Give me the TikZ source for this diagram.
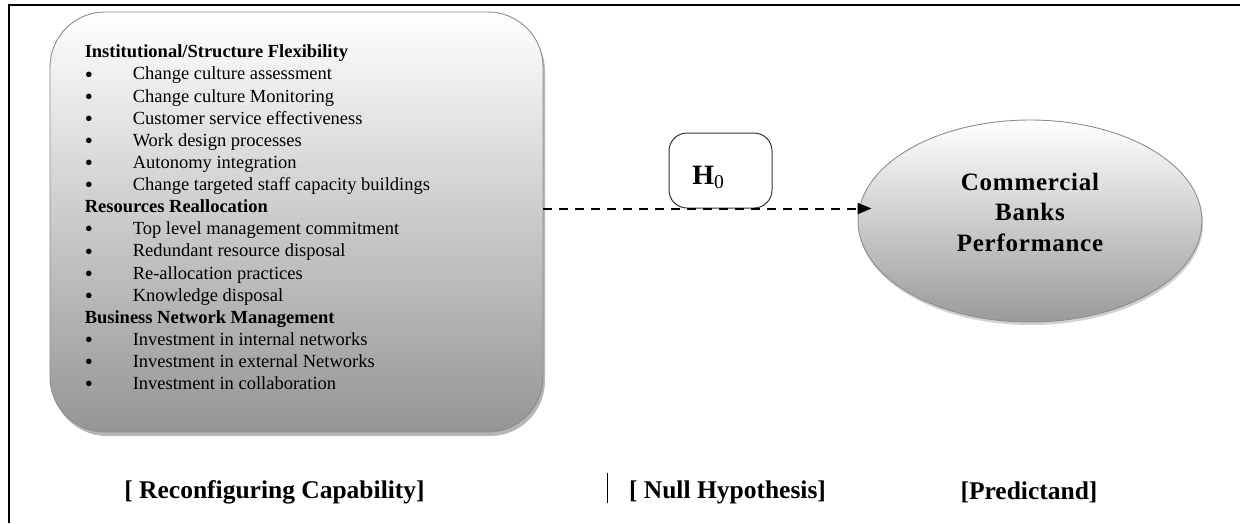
\documentclass[tikz,border=0pt]{standalone}
\usepackage{fontspec}
\setmainfont{Liberation Serif}
\newfontfamily\spacedfont[LetterSpace=3]{Liberation Serif}
\usepackage{tikz}
\usetikzlibrary{positioning, shapes.geometric, shadows, arrows.meta}
\definecolor{shadeLow}{HTML}{959595}
\definecolor{edgeGray}{HTML}{8C8C8C}
\definecolor{shadowGray}{HTML}{7A7A7A}
\newcommand{\itemdot}{\raisebox{-2.2pt}{\fontsize{23}{22}\selectfont\textbullet}}

\begin{document}
\begin{tikzpicture}[x=1pt, y=-1pt]
\tikzset{
  capbox/.style={draw=edgeGray, line width=0.9pt, rounded corners=55pt,
    top color=white, bottom color=shadeLow, inner sep=0pt,
    minimum width=493pt, minimum height=420pt,
    drop shadow={shadow xshift=2pt, shadow yshift=-4pt, fill=shadowGray, opacity=0.55}},
  perfell/.style={ellipse, draw=edgeGray, line width=0.9pt, inner sep=0pt,
    top color=white, bottom color=shadeLow!95,
    minimum width=344pt, minimum height=202pt,
    drop shadow={shadow xshift=1pt, shadow yshift=-3pt, fill=shadowGray, opacity=0.35}},
  hypbox/.style={draw=black!80, line width=1pt, rounded corners=18pt,
    minimum width=103pt, minimum height=75pt, inner sep=0pt},
  caplabel/.style={font=\bfseries\fontsize{25.5}{30}\selectfont, inner sep=0pt},
  flow/.style={dashed, line width=2pt, dash pattern=on 9pt off 7pt,
    -{Triangle[length=14pt, width=11pt]}},
}
  \useasboundingbox (0,0) rectangle (1240,523);

  % page frame (top and left rules)
  \draw[line width=2.6pt] (8,5) -- (1240,5);
  \draw[line width=2.4pt] (8.7,5) -- (8.7,523);

  % Reconfiguring capability box
  \node[capbox] (recon) at (296.5,222) {};
  \node[anchor=north west, inner sep=0pt,
        font=\fontsize{18.5}{22.13}\selectfont]
    (reconitems) at ([xshift=35pt, yshift=-30.5pt]recon.north west) {%
    \begin{tabular}{@{}p{48pt}@{}l@{}}
      \multicolumn{2}{@{}l@{}}{\textbf{Institutional/Structure Flexibility}}\\
      \itemdot & Change culture assessment\\
      \itemdot & Change culture Monitoring\\
      \itemdot & Customer service effectiveness\\
      \itemdot & Work design processes\\
      \itemdot & Autonomy integration\\
      \itemdot & Change targeted staff capacity buildings\\
      \multicolumn{2}{@{}l@{}}{\textbf{Resources Reallocation}}\\
      \itemdot & Top level management commitment\\
      \itemdot & Redundant resource disposal\\
      \itemdot & Re-allocation practices\\
      \itemdot & Knowledge disposal\\
      \multicolumn{2}{@{}l@{}}{\textbf{Business Network Management}}\\
      \itemdot & Investment in internal networks\\
      \itemdot & Investment in external Networks\\
      \itemdot & Investment in collaboration
    \end{tabular}};

  % Predictand ellipse
  \node[perfell] (perf) at (1030,221) {};
  \node[font=\spacedfont\bfseries\fontsize{25}{30.5}\selectfont, align=center, inner sep=0pt]
    (perflabel) at ([yshift=9pt]perf.center) {Commercial\\Banks\\Performance};

  % Null hypothesis tag
  \node[hypbox] (h0) at (720.5,170.5) {};
  \node[font=\bfseries\fontsize{28}{30}\selectfont, inner sep=0pt]
    (h0label) at ([xshift=-12pt, yshift=-7pt]h0.center) {H\textsubscript{\mdseries 0}};

  % dashed path into the ellipse
  \coordinate (tip) at ([xshift=14pt]perf.west);
  \draw[flow] (recon.east |- h0.south) -- (tip |- h0.south);

  % captions
  \node[caplabel] (reconcap) at (274.5,492) {[ Reconfiguring Capability]};
  \node[caplabel] (nullcap) at (727.5,492) {[ Null Hypothesis]};
  \node[caplabel] (predcap) at (1029,492) {[Predictand]};
  \draw[line width=1.3pt] ([xshift=-21pt, yshift=19pt]nullcap.west) -- ++(0,30);

\end{tikzpicture}
\end{document}
